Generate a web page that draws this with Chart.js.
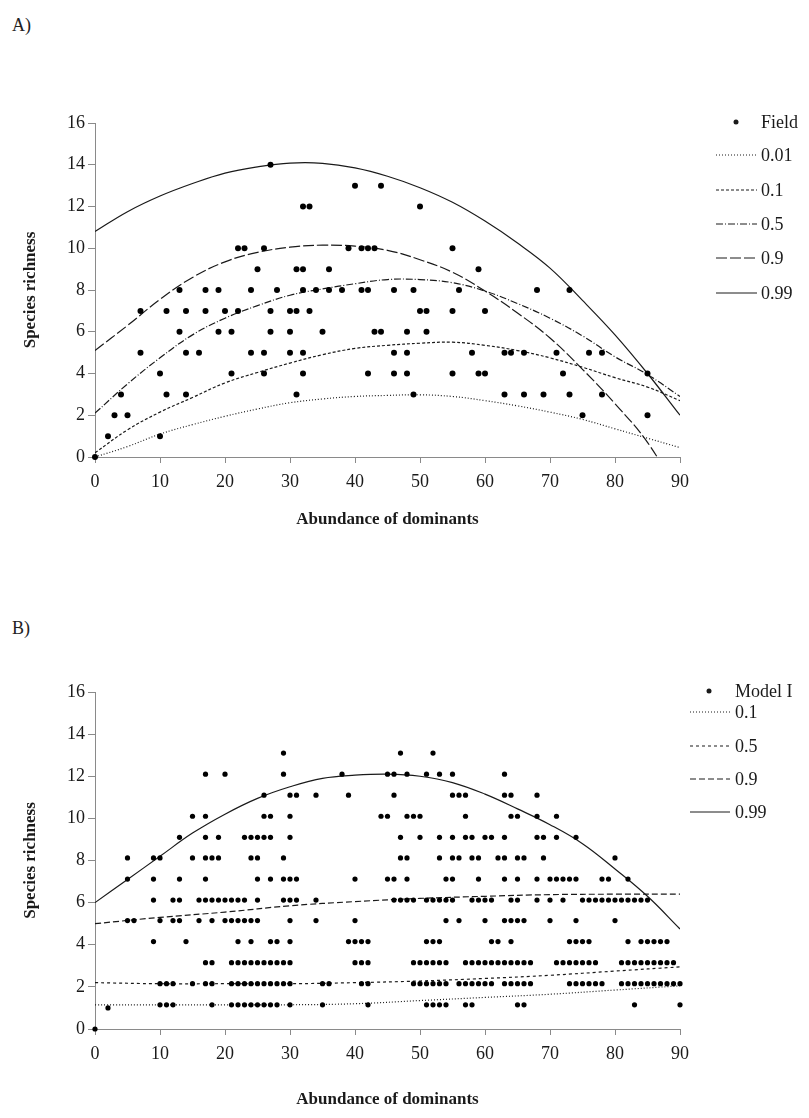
<!DOCTYPE html>
<html>
<head>
<meta charset="utf-8">
<script src="https://cdn.jsdelivr.net/npm/chart.js@4.4.1/dist/chart.umd.min.js"></script>
<style>
  html, body { margin: 0; padding: 0; background: #fff; }
  body { width: 809px; height: 1118px; position: relative; overflow: hidden;
         font-family: "Liberation Serif", "Times New Roman", serif; }
  .panel { position: absolute; left: 0; width: 809px; }
  .tag { position: absolute; left: 12px; font-size: 18px; color: #222; }
</style>
</head>
<body>
<div class="tag" style="top:15px">A)</div>
<div class="panel" style="top:0; height:540px"><canvas id="chartA" width="809" height="540"></canvas></div>
<div class="tag" style="top:618px">B)</div>
<div class="panel" style="top:560px; height:558px"><canvas id="chartB" width="809" height="558"></canvas></div>

<script>
/* ─── Panel A: field data, one row of x values per richness value ─── */
const fieldRowY = [0, 1, 2, 3, 4, 5, 6, 7, 8, 9, 10, 12, 13, 14];
const fieldRowX = [
  [0],
  [2, 10],
  [3, 5, 75, 85],
  [4, 11, 14, 31, 49, 63, 66, 69, 73, 78],
  [10, 21, 26, 32, 42, 46, 48, 55, 59, 60, 72, 85],
  [7, 14, 16, 24, 26, 30, 32, 46, 48, 58, 63, 64, 66, 71, 76, 78],
  [13, 19, 21, 27, 30, 35, 43, 44, 48, 51],
  [7, 11, 14, 17, 20, 22, 27, 30, 31, 33, 50, 51, 55, 60],
  [13, 17, 19, 24, 28, 32, 34, 36, 38, 41, 42, 46, 49, 56, 68, 73],
  [25, 31, 32, 36, 59],
  [22, 23, 26, 39, 41, 42, 43, 55],
  [32, 33, 50],
  [40, 44],
  [27],
];

// quantile curves, panel A
const curveX      = [0, 5, 10, 15, 20, 25, 30, 35, 40, 45, 50, 55, 60, 65, 70, 75, 80, 85, 90];
const fieldQ001   = [0.0, 0.5, 1.1, 1.55, 1.95, 2.3, 2.6, 2.78, 2.9, 2.95, 2.98, 2.9, 2.7, 2.45, 2.15, 1.8, 1.35, 0.9, 0.45];
const fieldQ01    = [0.2, 1.3, 2.15, 2.85, 3.55, 4.05, 4.5, 4.9, 5.2, 5.35, 5.45, 5.5, 5.35, 5.1, 4.75, 4.3, 3.8, 3.35, 2.7];
const fieldQ05    = [2.1, 3.5, 4.75, 5.85, 6.65, 7.25, 7.75, 8.05, 8.3, 8.5, 8.5, 8.35, 7.95, 7.35, 6.65, 5.8, 4.8, 3.95, 2.9];
const fieldQ09    = [5.1, 6.3, 7.55, 8.6, 9.35, 9.8, 10.05, 10.15, 10.1, 9.9, 9.45, 8.85, 7.95, 6.9, 5.7, 4.2, 2.55, 0.7, -1.9];
const fieldQ099   = [10.8, 11.75, 12.5, 13.1, 13.6, 13.9, 14.08, 14.07, 13.85, 13.45, 12.9, 12.2, 11.3, 10.25, 9.05, 7.5, 5.85, 4.0, 2.0];

/* ─── Panel B: Model I simulation ─── */
const modelRowY = [1.15, 2.15, 3.15, 4.15, 5.15, 6.12, 7.12, 8.12, 9.1, 10.1, 11.1, 12.1, 13.1];
const modelRowX = [
  [10, 11, 12, 18, 21, 22, 23, 24, 25, 26, 27, 28, 30, 35, 42, 51, 52, 53, 54, 57, 58, 65, 66, 83, 90],
  [10, 11, 12, 15, 17, 18, 21, 22, 23, 24, 25, 26, 27, 28, 29, 30, 35, 36, 41, 42, 49, 50, 51, 52, 53, 54,
   56, 57, 58, 59, 60, 61, 63, 64, 65, 66, 67, 73, 74, 75, 76, 77, 78, 81, 82, 83, 84, 85, 86, 87, 88, 89, 90],
  [17, 18, 21, 22, 23, 24, 25, 26, 27, 28, 29, 30, 40, 41, 42, 49, 50, 51, 52, 53, 54,
   57, 58, 59, 60, 61, 62, 63, 64, 65, 66, 67, 71, 72, 73, 74, 75, 76, 77, 81, 82, 83, 84, 85, 86, 87, 88, 89],
  [9, 14, 22, 24, 27, 28, 30, 39, 40, 41, 42, 51, 52, 53, 61, 62, 64, 73, 74, 75, 76, 82, 84, 85, 86, 87, 88],
  [5, 6, 10, 12, 13, 16, 18, 20, 21, 22, 23, 24, 25, 30, 34, 40, 54, 56, 60, 63, 64, 65, 66, 70, 74, 80],
  [9, 12, 13, 16, 17, 18, 19, 20, 21, 22, 23, 25, 29, 30, 31, 34, 46, 47, 48, 49, 51, 52, 53, 54, 55,
   58, 59, 60, 61, 64, 65, 68, 70, 72, 75, 76, 77, 78, 79, 80, 81, 82, 83, 84, 85],
  [5, 9, 13, 17, 25, 27, 29, 30, 31, 40, 45, 46, 48, 54, 55, 59, 63, 65, 68, 70, 71, 72, 73, 74, 78, 79, 82],
  [5, 9, 10, 15, 17, 18, 19, 24, 25, 29, 47, 48, 53, 55, 56, 58, 59, 62, 63, 65, 66, 69, 80],
  [13, 17, 19, 23, 24, 25, 26, 27, 30, 47, 50, 53, 55, 57, 58, 60, 61, 63, 68, 69, 71, 74],
  [15, 17, 26, 27, 30, 44, 45, 48, 49, 50, 57, 64, 65, 68, 71],
  [26, 30, 31, 34, 39, 46, 55, 56, 57, 63, 64, 68],
  [17, 20, 29, 38, 45, 46, 48, 51, 53, 55, 63],
  [29, 47, 52],
];
const modelExtraX = [0, 2];
const modelExtraY = [0, 1];

const modelX10    = [0, 10, 20, 30, 40, 50, 60, 70, 80, 90];
const modelQ01    = [1.15, 1.15, 1.15, 1.15, 1.2, 1.35, 1.5, 1.65, 1.85, 2.05];
const modelQ05    = [2.2, 2.15, 2.15, 2.15, 2.2, 2.28, 2.4, 2.55, 2.75, 2.95];
const modelQ09    = [5.0, 5.3, 5.55, 5.85, 6.05, 6.2, 6.3, 6.38, 6.4, 6.4];
const modelQ099   = [6.0, 7.1, 8.2, 9.3, 10.2, 10.95, 11.5, 11.9, 12.05, 12.1, 12.0, 11.7, 11.15, 10.45, 9.7, 8.8, 7.6, 6.3, 4.75];

/* ─── helpers ─── */
const INK   = '#1a1a1a';
const AXIS  = '#8a8a8a';
const SERIF = '"Liberation Serif", "Times New Roman", serif';

function rowsToPoints(ys, xs) {
  const pts = [];
  ys.forEach((y, i) => xs[i].forEach(x => pts.push({ x, y })));
  return pts;
}
function pairs(xs, ys) { return xs.map((x, i) => ({ x, y: ys[i] })); }

function curve(label, xs, ys, dash) {
  return {
    label, data: pairs(xs, ys), showLine: true,
    borderColor: INK, borderWidth: 1.2, borderDash: dash,
    pointRadius: 0, fill: false, tension: 0.4,
  };
}
function dots(label, data, r) {
  return {
    label, data, showLine: false, clip: false,
    pointRadius: r, pointBackgroundColor: '#000', pointBorderWidth: 0,
  };
}

/* legend drawn on the right of the plot, using each dataset's own dash */
const sideLegend = {
  id: 'sideLegend',
  afterDraw(chart, args, opts) {
    const ctx = chart.ctx;
    ctx.save();
    ctx.font = '18px ' + SERIF;
    ctx.textBaseline = 'middle';
    ctx.fillStyle = INK;
    chart.data.datasets.forEach((ds, i) => {
      const y = opts.rows[i];
      if (ds.showLine) {
        ctx.strokeStyle = INK;
        ctx.lineWidth = 1;
        ctx.setLineDash(ds.borderDash || []);
        ctx.beginPath();
        ctx.moveTo(opts.x0, y);
        ctx.lineTo(opts.x1, y);
        ctx.stroke();
      } else {
        ctx.beginPath();
        ctx.arc(opts.dotX, y, 2.5, 0, Math.PI * 2);
        ctx.fill();
      }
      ctx.fillText(ds.label, opts.textX, y + 1);
    });
    ctx.restore();
  }
};

function build(id, datasets, cfg) {
  return new Chart(document.getElementById(id), {
    type: 'scatter',
    data: { datasets },
    plugins: [sideLegend],
    options: {
      responsive: false,
      animation: false,
      layout: { padding: { left: 0, right: 129, top: cfg.top, bottom: 0 } },
      plugins: {
        legend: { display: false },
        tooltip: { enabled: false },
        sideLegend: cfg.legend,
      },
      scales: {
        x: {
          type: 'linear', min: 0, max: 90,
          afterFit: s => { s.height = cfg.xHeight; },
          ticks: { stepSize: 10, color: INK, padding: 8, font: { family: SERIF, size: 18 } },
          grid: { drawOnChartArea: false, drawTicks: true, tickLength: 6, color: AXIS },
          border: { color: AXIS, width: 1 },
          title: { display: true, text: 'Abundance of dominants', color: INK,
                   padding: { top: 0, bottom: cfg.titlePad },
                   font: { family: SERIF, size: 17, weight: 'bold' } },
        },
        y: {
          type: 'linear', min: 0, max: 16,
          afterFit: s => { s.width = 95; },
          ticks: { stepSize: 2, color: INK, padding: 3, font: { family: SERIF, size: 18 } },
          grid: { drawOnChartArea: false, drawTicks: true, tickLength: 7, color: AXIS },
          border: { color: AXIS, width: 1 },
          title: { display: true, text: 'Species richness', color: INK,
                   padding: { top: 20, bottom: 0 },
                   font: { family: SERIF, size: 17, weight: 'bold' } },
        },
      },
    },
  });
}

build('chartA', [
  dots('Field', rowsToPoints(fieldRowY, fieldRowX), 3),
  curve('0.01', curveX, fieldQ001, [1, 2]),
  curve('0.1',  curveX, fieldQ01,  [3, 2]),
  curve('0.5',  curveX, fieldQ05,  [7, 2, 1, 2]),
  curve('0.9',  curveX, fieldQ09,  [11, 3]),
  curve('0.99', curveX, fieldQ099, []),
], {
  top: 123, xHeight: 83, titlePad: 10,
  legend: { rows: [122, 155, 190, 224, 258, 293], x0: 716, x1: 757, dotX: 736, textX: 761 },
});

build('chartB', [
  dots('Model I', rowsToPoints(modelRowY, modelRowX).concat(pairs(modelExtraX, modelExtraY)), 2.6),
  curve('0.1',  modelX10, modelQ01,  [1, 2]),
  curve('0.5',  modelX10, modelQ05,  [3, 3]),
  curve('0.9',  modelX10, modelQ09,  [6, 3]),
  curve('0.99', curveX,   modelQ099, []),
], {
  top: 132, xHeight: 89, titlePad: 8,
  legend: { rows: [131, 152, 186, 219, 252], x0: 690, x1: 730, dotX: 709, textX: 735 },
});
</script>
</body>
</html>
